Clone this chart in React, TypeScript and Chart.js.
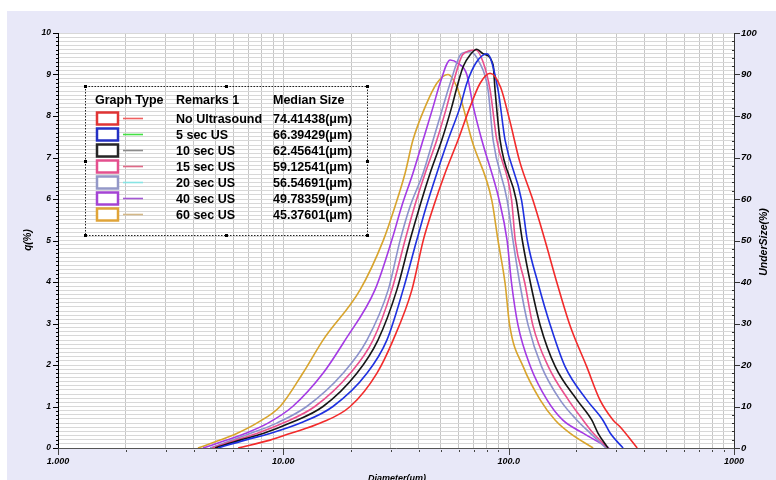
import { useEffect, useRef } from "react";
import { Chart, registerables } from "chart.js";

Chart.register(...registerables);

// ---------- data ----------
const seriesNames = ["No Ultrasound", "5 sec US", "10 sec US", "15 sec US", "20 sec US", "40 sec US", "60 sec US"];
const medianSizes = ["74.41438(μm)", "66.39429(μm)", "62.45641(μm)", "59.12541(μm)", "56.54691(μm)", "49.78359(μm)", "45.37601(μm)"];

const diamNoUS = [6.3, 8.73, 10.7, 14.6, 19.8, 26.0, 30.7, 37.2, 41.8, 46.4, 52.2, 59.6, 67.4, 74.7, 82.7, 92, 101, 112, 128, 145, 164, 187, 222, 254, 291, 312, 372];
const qNoUS = [0, 0.19, 0.35, 0.6, 1.0, 1.8, 2.6, 3.81, 5.01, 5.82, 6.62, 7.42, 8.22, 8.79, 9.03, 8.7, 7.9, 6.9, 5.98, 5.0, 3.97, 2.96, 1.96, 1.16, 0.67, 0.51, 0];

const diam5s = [5.13, 6.76, 8.73, 11.9, 16.6, 23.5, 28.8, 34.0, 39.1, 43.1, 48.0, 53.8, 60.9, 65.2, 72, 80.2, 89.7, 96.4, 114, 121, 135, 153, 178, 222, 262, 282, 322];
const q5s = [0, 0.19, 0.35, 0.6, 1.0, 1.8, 2.6, 3.81, 5.01, 5.82, 6.62, 7.42, 8.22, 8.79, 9.3, 9.5, 8.63, 7.42, 5.98, 5.0, 3.97, 2.96, 1.96, 1.16, 0.67, 0.36, 0];

const diam10s = [4.98, 6.42, 8.13, 10.7, 15.0, 21.2, 26.3, 31.9, 36.5, 40.3, 44.8, 50.5, 55.9, 59.6, 62.9, 67.4, 72.2, 77.0, 85.3, 87.0, 91.6, 108, 115, 125, 138, 161, 201, 234, 249, 276];
const q10s = [0, 0.19, 0.35, 0.6, 1.0, 1.8, 2.6, 3.81, 5.01, 5.82, 6.62, 7.42, 8.22, 8.79, 9.2, 9.47, 9.61, 9.5, 9.23, 8.63, 7.42, 5.98, 5.0, 3.97, 2.96, 1.96, 1.16, 0.67, 0.36, 0];

const diam15s = [4.83, 6.17, 7.62, 9.97, 13.8, 19.8, 25.0, 30.3, 34.7, 38.2, 42.6, 48.0, 53.1, 56.7, 62.8, 71.5, 77, 82.7, 88.6, 103, 107, 118, 128, 150, 184, 214, 237, 276];
const q15s = [0, 0.19, 0.35, 0.6, 1.0, 1.8, 2.6, 3.81, 5.01, 5.82, 6.62, 7.42, 8.22, 8.79, 9.49, 9.59, 9.3, 8.63, 7.42, 5.98, 5.0, 3.97, 2.96, 1.96, 1.16, 0.67, 0.36, 0];

const diam20s = [4.73, 5.92, 7.12, 9.35, 12.7, 18.4, 23.5, 29.2, 33.0, 36.5, 41.7, 46.2, 51.1, 55.0, 61.9, 67.4, 74, 81.0, 85.3, 98.4, 104.5, 112, 122, 140, 169, 201, 230, 270];
const q20s = [0, 0.19, 0.35, 0.6, 1.0, 1.8, 2.6, 3.81, 5.01, 5.82, 6.62, 7.42, 8.22, 8.79, 9.51, 9.55, 9.3, 8.63, 7.42, 5.98, 5.0, 3.97, 2.96, 1.96, 1.16, 0.67, 0.36, 0];

const diam40s = [4.4, 5.61, 6.76, 8.55, 11.0, 15.0, 18.8, 25.5, 30.3, 33.5, 37.6, 41.7, 46.2, 49.6, 55.0, 59.6, 65.2, 69.7, 76.0, 90.7, 98.4, 103, 110, 125, 148, 174, 214, 279];
const q40s = [0, 0.19, 0.35, 0.6, 1.0, 1.8, 2.6, 3.81, 5.01, 5.82, 6.62, 7.42, 8.22, 8.79, 9.35, 9.27, 9.0, 8.22, 7.42, 5.98, 5.0, 3.97, 2.96, 1.96, 1.16, 0.67, 0.36, 0];

const diam60s = [4.18, 5.24, 6.21, 7.62, 9.67, 12.2, 15.0, 21.9, 27.8, 31.3, 34.7, 37.6, 42.6, 48.0, 53.8, 59.6, 62.8, 68.6, 84.1, 89.7, 96.4, 101, 116, 138, 161, 187, 237];
const q60s = [0, 0.19, 0.35, 0.6, 1.0, 1.8, 2.6, 3.81, 5.01, 5.82, 6.62, 7.42, 8.22, 8.79, 9.0, 8.63, 8.22, 7.42, 5.98, 5.0, 3.97, 2.96, 1.96, 1.16, 0.67, 0.36, 0];

const xMajorTicks = [1, 10, 100, 1000];
const xTickLabels = ["1.000", "10.00", "100.0", "1000"];
const leftTickLabels = ["0", "1", "2", "3", "4", "5", "6", "7", "8", "9", "10"];
const rightTickLabels = ["0", "10", "20", "30", "40", "50", "60", "70", "80", "90", "100"];

const seriesDiam = [diamNoUS, diam5s, diam10s, diam15s, diam20s, diam40s, diam60s];
const seriesQ = [qNoUS, q5s, q10s, q15s, q20s, q40s, q60s];

// ---------- styles ----------
const curveColors = ["#f22a2a", "#1e30e0", "#151515", "#ea4f8d", "#8c92cc", "#a43ae4", "#d8a42c"];
const boxColors = ["#e03434", "#2430c4", "#262626", "#e4508e", "#9498c8", "#a444d4", "#e0a438"];
const legendLineColors = ["#f06060", "#44e044", "#8c8c8c", "#e06a88", "#88e4e4", "#a458d4", "#d4b888"];
const FONT = '"Liberation Sans", Arial, sans-serif';

const xGridValues: number[] = [];
for (let e = 0; e < 3; e++) for (let m = 1; m < 10; m++) xGridValues.push(m * Math.pow(10, e));
xGridValues.push(1000);

const framePlugin = {
  id: "frame",
  beforeDraw(chart: any) {
    const { ctx, chartArea: a } = chart;
    ctx.save();
    ctx.fillStyle = "#ffffff";
    ctx.fillRect(a.left, a.top, a.right - a.left, a.bottom - a.top);
    ctx.restore();
  },
  afterDraw(chart: any) {
    const { ctx, chartArea: a, scales } = chart;
    ctx.save();
    ctx.strokeStyle = "#000";
    ctx.lineWidth = 1;
    // left axis ticks
    for (let i = 0; i <= 100; i++) {
      const y = Math.round(scales.y.getPixelForValue(i / 10)) + 0.5;
      const len = i % 10 === 0 ? 5 : 2;
      ctx.beginPath();
      ctx.moveTo(a.left - len, y);
      ctx.lineTo(a.left, y);
      ctx.stroke();
    }
    // right axis ticks
    ctx.strokeStyle = "#333";
    for (let i = 0; i <= 50; i++) {
      const y = Math.round(scales.y2.getPixelForValue(i * 2)) + 0.5;
      ctx.beginPath();
      if (i % 5 === 0) {
        ctx.moveTo(a.right, y);
        ctx.lineTo(a.right + 6, y);
      } else {
        ctx.moveTo(a.right - 2, y);
        ctx.lineTo(a.right + 1, y);
      }
      ctx.stroke();
    }
    // bottom axis ticks
    ctx.strokeStyle = "#444";
    xGridValues.forEach((v) => {
      const x = Math.round(scales.x.getPixelForValue(v)) + 0.5;
      ctx.beginPath();
      if (xMajorTicks.includes(v)) {
        ctx.moveTo(x, a.bottom);
        ctx.lineTo(x, a.bottom + 7);
      } else {
        ctx.moveTo(x, a.bottom + 2);
        ctx.lineTo(x, a.bottom + 4);
      }
      ctx.stroke();
    });

    // axis titles
    ctx.fillStyle = "#000";
    ctx.font = `italic bold 10px ${FONT}`;
    ctx.textAlign = "center";
    ctx.textBaseline = "middle";
    ctx.save();
    ctx.translate(21, 229);
    ctx.rotate(-Math.PI / 2);
    ctx.fillText("q(%)", 0, 0);
    ctx.restore();
    ctx.save();
    ctx.font = `italic bold 10.5px ${FONT}`;
    ctx.translate(757, 231);
    ctx.rotate(-Math.PI / 2);
    ctx.fillText("UnderSize(%)", 0, 0);
    ctx.restore();
    ctx.font = `italic bold 9px ${FONT}`;
    ctx.textBaseline = "top";
    ctx.fillText("Diameter(μm)", 390, 463);

    // legend table
    const L = 78, T = 75, R = 360, B = 224;
    ctx.strokeStyle = "#222";
    ctx.lineWidth = 1;
    ctx.setLineDash([1.5, 1.5]);
    ctx.strokeRect(L + 0.5, T + 0.5, R - L, B - T);
    ctx.setLineDash([]);
    ctx.fillStyle = "#000";
    const midX = (L + R) / 2, midY = (T + B) / 2;
    [[L, T], [midX, T], [R, T], [L, midY], [R, midY], [L, B], [midX, B], [R, B]].forEach(([hx, hy]) => {
      ctx.fillRect(Math.round(hx) - 1, Math.round(hy) - 1, 3, 3);
    });
    ctx.font = `bold 12.5px ${FONT}`;
    ctx.textAlign = "left";
    ctx.textBaseline = "middle";
    ctx.fillStyle = "#000";
    ctx.fillText("Graph Type", 88, 90);
    ctx.fillText("Remarks 1", 169, 90);
    ctx.fillText("Median Size", 266, 90);
    seriesNames.forEach((name, i) => {
      const cy = 107.5 + i * 16;
      ctx.fillStyle = "#fff";
      ctx.fillRect(90, cy - 6, 21, 12);
      ctx.strokeStyle = boxColors[i];
      ctx.lineWidth = 2.5;
      ctx.strokeRect(90, cy - 6, 21, 12);
      ctx.strokeStyle = legendLineColors[i];
      ctx.lineWidth = 1.6;
      ctx.beginPath();
      ctx.moveTo(116, cy);
      ctx.lineTo(136, cy);
      ctx.stroke();
      ctx.fillStyle = "#000";
      ctx.fillText(name, 169, cy + 1);
      ctx.fillText(medianSizes[i], 266, cy + 1);
    });
    ctx.restore();
  },
};

export default function App() {
  const ref = useRef<HTMLCanvasElement>(null);
  useEffect(() => {
    const canvas = ref.current!;
    const tickFont = { family: FONT, size: 8.5, style: "italic" as const, weight: "bold" as const };
    const chart = new Chart(canvas, {
      type: "line",
      data: {
        datasets: seriesNames.map((name, i) => ({
          label: name,
          data: seriesDiam[i].map((x, j) => ({ x, y: seriesQ[i][j] })),
          borderColor: curveColors[i],
          backgroundColor: curveColors[i],
          borderWidth: 1.6,
          pointRadius: 0,
          fill: false,
          cubicInterpolationMode: "monotone" as const,
          yAxisID: "y",
        })),
      },
      options: {
        animation: false,
        responsive: false,
        events: [],
        layout: { padding: { top: 22, left: 0, right: 0, bottom: 0 } },
        plugins: { legend: { display: false }, tooltip: { enabled: false } },
        scales: {
          x: {
            type: "logarithmic",
            min: 1,
            max: 1000,
            afterBuildTicks: (s: any) => {
              s.ticks = xGridValues.map((v) => ({ value: v }));
            },
            afterFit: (s: any) => {
              s.height = 32;
            },
            grid: { color: "#c6c6c6", lineWidth: 1, drawTicks: false },
            border: { display: true, color: "#555" },
            ticks: {
              autoSkip: false,
              maxRotation: 0,
              padding: 8,
              color: "#000",
              font: { ...tickFont, size: 9 },
              callback: (v: any) => {
                const idx = xMajorTicks.indexOf(Number(v));
                return idx >= 0 ? xTickLabels[idx] : "";
              },
            },
          },
          y: {
            type: "linear",
            position: "left",
            min: 0,
            max: 10,
            afterBuildTicks: (s: any) => {
              const t = [];
              for (let i = 0; i <= 100; i++) t.push({ value: i / 10 });
              s.ticks = t;
            },
            afterFit: (s: any) => {
              s.width = 51;
            },
            grid: { color: "#d8d8d8", lineWidth: 1, drawTicks: false },
            border: { display: true, color: "#000" },
            ticks: {
              autoSkip: false,
              padding: 7,
              color: "#000",
              font: tickFont,
              callback: (v: any) => {
                const n = Number(v);
                const r = Math.round(n);
                return Math.abs(n - r) < 1e-6 ? leftTickLabels[r] : "";
              },
            },
          },
          y2: {
            type: "linear",
            position: "right",
            min: 0,
            max: 100,
            afterBuildTicks: (s: any) => {
              s.ticks = rightTickLabels.map((_, i) => ({ value: i * 10 }));
            },
            afterFit: (s: any) => {
              s.width = 42;
            },
            grid: { drawOnChartArea: false, drawTicks: false },
            border: { display: true, color: "#333" },
            ticks: {
              autoSkip: false,
              padding: 7,
              color: "#000",
              font: { ...tickFont, size: 9.5 },
              callback: (v: any) => rightTickLabels[Math.round(Number(v) / 10)] ?? "",
            },
          },
        },
      },
      plugins: [framePlugin],
    });
    return () => chart.destroy();
  }, []);
  return (
    <div style={{ position: "fixed", left: 7, top: 11, width: 769, height: 469, background: "#e8e8f8" }}>
      <canvas ref={ref} width={769} height={469} style={{ display: "block", width: 769, height: 469 }} />
    </div>
  );
}
